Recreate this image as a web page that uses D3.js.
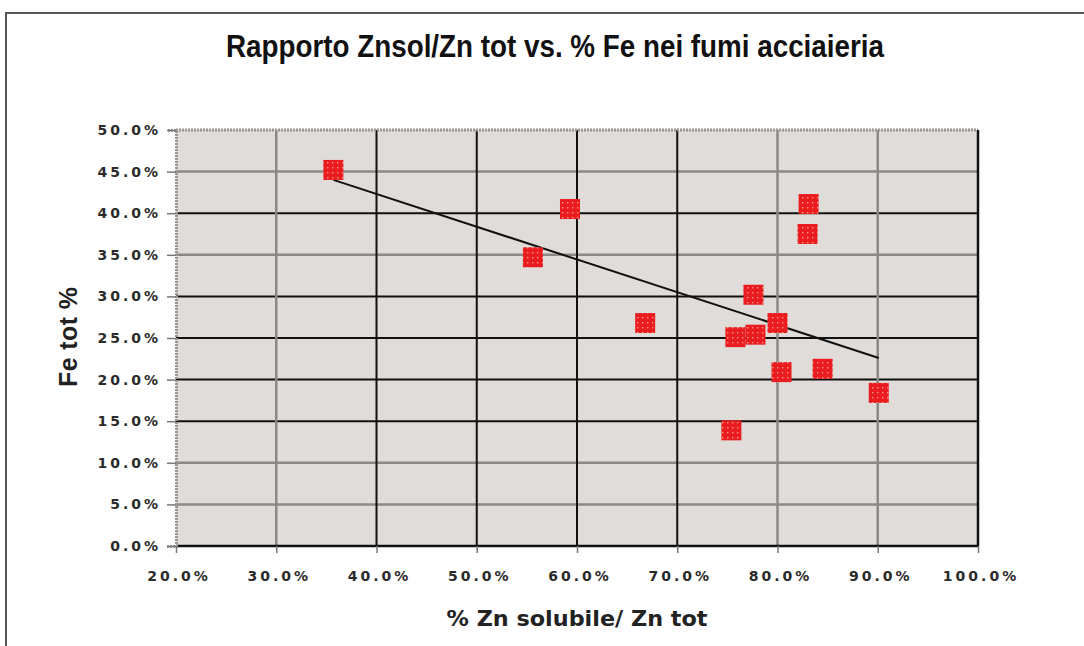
<!DOCTYPE html>
<html>
<head>
<meta charset="utf-8">
<script src="https://cdn.jsdelivr.net/npm/d3@7"></script>
<style>
  body { margin: 0; background: #fff; }
  svg { display: block; }
</style>
</head>
<body>
<svg width="1084" height="646"></svg>
<script>
// data (percent)
var znSol = [35.7, 55.6, 59.3, 83.1, 83.0, 77.6, 66.8, 80.0, 75.8, 77.8, 80.4, 84.5, 90.1, 75.4];
var feTot = [45.2, 34.7, 40.5, 41.1, 37.5, 30.2, 26.8, 26.8, 25.1, 25.4, 20.9, 21.3, 18.4, 13.9];
var xTicks = [20, 30, 40, 50, 60, 70, 80, 90, 100];
var yTicks = [0, 5, 10, 15, 20, 25, 30, 35, 40, 45, 50];
// trendline ends as seen in the picture
var trendX = [35.7, 90.1];
var trendY = [44.0, 22.6];

var svg = d3.select('svg'),
	pLeft = 176, pRight = 978, pTop = 130, pBottom = 546;

var x = d3.scaleLinear().domain([20, 100]).range([pLeft, pRight]);
var y = d3.scaleLinear().domain([0, 50]).range([pBottom, pTop]);

var fmt = function(d){ return d.toFixed(1) + '%'; };

// page frame
svg.append('line').attr('x1', 5).attr('x2', 1084).attr('y1', 13).attr('y2', 13)
	.attr('stroke', '#555').attr('stroke-width', 2);
svg.append('line').attr('x1', 6).attr('x2', 6).attr('y1', 13).attr('y2', 646)
	.attr('stroke', '#555').attr('stroke-width', 2);

// title
svg.append('text')
	.attr('x', 555).attr('y', 57)
	.attr('text-anchor', 'middle')
	.attr('font-family', '"Liberation Sans Narrow", "Liberation Sans", Arial, sans-serif')
	.attr('font-weight', 'bold')
	.attr('font-size', 31)
	.attr('textLength', 658).attr('lengthAdjust', 'spacingAndGlyphs')
	.attr('fill', '#111')
	.text('Rapporto Znsol/Zn tot vs. % Fe nei fumi acciaieria');

// marker pattern
var defs = svg.append('defs');
var pat = defs.append('pattern').attr('id', 'dots')
	.attr('patternUnits', 'userSpaceOnUse').attr('width', 5).attr('height', 5)
	.attr('x', 0).attr('y', 0);
pat.append('rect').attr('width', 5).attr('height', 5).attr('fill', '#ea1c1f');
pat.append('rect').attr('x', 2).attr('y', 2).attr('width', 1.4).attr('height', 1.4).attr('fill', '#f39a7c');

// plot background
svg.append('rect').attr('x', pLeft).attr('y', pTop)
	.attr('width', pRight - pLeft).attr('height', pBottom - pTop)
	.attr('fill', '#e0dcda');

var grey = { y: [45, 35, 10, 5], x: [30, 80, 90] };

// horizontal gridlines
svg.append('g').selectAll('line')
	.data(yTicks.filter(function(d){ return d > 0 && d < 50; }))
	.enter().append('line')
	.attr('x1', pLeft).attr('x2', pRight)
	.attr('y1', function(d){ return y(d); }).attr('y2', function(d){ return y(d); })
	.attr('stroke', function(d){ return grey.y.indexOf(d) >= 0 ? '#8d8886' : '#111'; })
	.attr('stroke-width', function(d){ return grey.y.indexOf(d) >= 0 ? 2.5 : 2; });

// vertical gridlines
svg.append('g').selectAll('line')
	.data(xTicks.filter(function(d){ return d > 20 && d < 100; }))
	.enter().append('line')
	.attr('y1', pTop).attr('y2', pBottom)
	.attr('x1', function(d){ return x(d); }).attr('x2', function(d){ return x(d); })
	.attr('stroke', function(d){ return grey.x.indexOf(d) >= 0 ? '#8d8886' : '#111'; })
	.attr('stroke-width', function(d){ return grey.x.indexOf(d) >= 0 ? 2.5 : 2; });

// plot border: grey top/left, black right/bottom
svg.append('line').attr('x1', pLeft).attr('x2', pRight).attr('y1', pTop).attr('y2', pTop)
	.attr('stroke', '#9a9694').attr('stroke-width', 3).attr('stroke-dasharray', '2,1');
svg.append('line').attr('x1', pLeft).attr('x2', pRight).attr('y1', pBottom).attr('y2', pBottom)
	.attr('stroke', '#111').attr('stroke-width', 2.5);
svg.append('line').attr('x1', pRight).attr('x2', pRight).attr('y1', pTop).attr('y2', pBottom)
	.attr('stroke', '#111').attr('stroke-width', 2.5);

// axes
var yAxis = svg.append('g')
	.attr('transform', 'translate(' + pLeft + ',0)')
	.call(d3.axisLeft(y).tickValues(yTicks).tickFormat(fmt).tickSize(9).tickPadding(9));
var xAxis = svg.append('g')
	.attr('transform', 'translate(0,' + pBottom + ')')
	.call(d3.axisBottom(x).tickValues(xTicks).tickFormat(fmt).tickSize(7).tickPadding(18));

[yAxis, xAxis].forEach(function(a){
	a.select('.domain').attr('stroke', '#9a9694').attr('stroke-width', 3).attr('stroke-dasharray', '2,1');
	a.selectAll('.tick line').attr('stroke', '#777').attr('stroke-width', 1.5);
	a.selectAll('text')
		.attr('font-family', '"DejaVu Sans", Verdana, sans-serif')
		.attr('font-weight', 'bold')
		.attr('font-size', 14)
		.attr('letter-spacing', 3)
		.attr('fill', '#2a2a2a');
});
xAxis.select('.domain').remove();
xAxis.selectAll('text').attr('dx', 2.5);
yAxis.selectAll('text').attr('dx', 3);

// trendline
svg.append('line')
	.attr('x1', x(trendX[0])).attr('y1', y(trendY[0]))
	.attr('x2', x(trendX[1])).attr('y2', y(trendY[1]))
	.attr('stroke', '#111').attr('stroke-width', 2);

// points
svg.append('g').selectAll('rect')
	.data(znSol.map(function(v, i){ return { x: v, y: feTot[i] }; }))
	.enter().append('rect')
	.attr('x', function(d){ return x(d.x) - 10; })
	.attr('y', function(d){ return y(d.y) - 10; })
	.attr('width', 20).attr('height', 20)
	.attr('fill', 'url(#dots)');

// axis titles
svg.append('text')
	.attr('transform', 'translate(77,337) rotate(-90)')
	.attr('text-anchor', 'middle')
	.attr('font-family', '"Liberation Sans", Arial, sans-serif')
	.attr('font-weight', 'bold')
	.attr('font-size', 25)
	.attr('textLength', 100).attr('lengthAdjust', 'spacing')
	.attr('fill', '#222')
	.text('Fe tot %');

svg.append('text')
	.attr('x', 577).attr('y', 626)
	.attr('text-anchor', 'middle')
	.attr('font-family', '"DejaVu Sans", Verdana, sans-serif')
	.attr('font-weight', 'bold')
	.attr('font-size', 22)
	.attr('textLength', 261).attr('lengthAdjust', 'spacingAndGlyphs')
	.attr('fill', '#222')
	.text('% Zn solubile/ Zn tot');
</script>
</body>
</html>
